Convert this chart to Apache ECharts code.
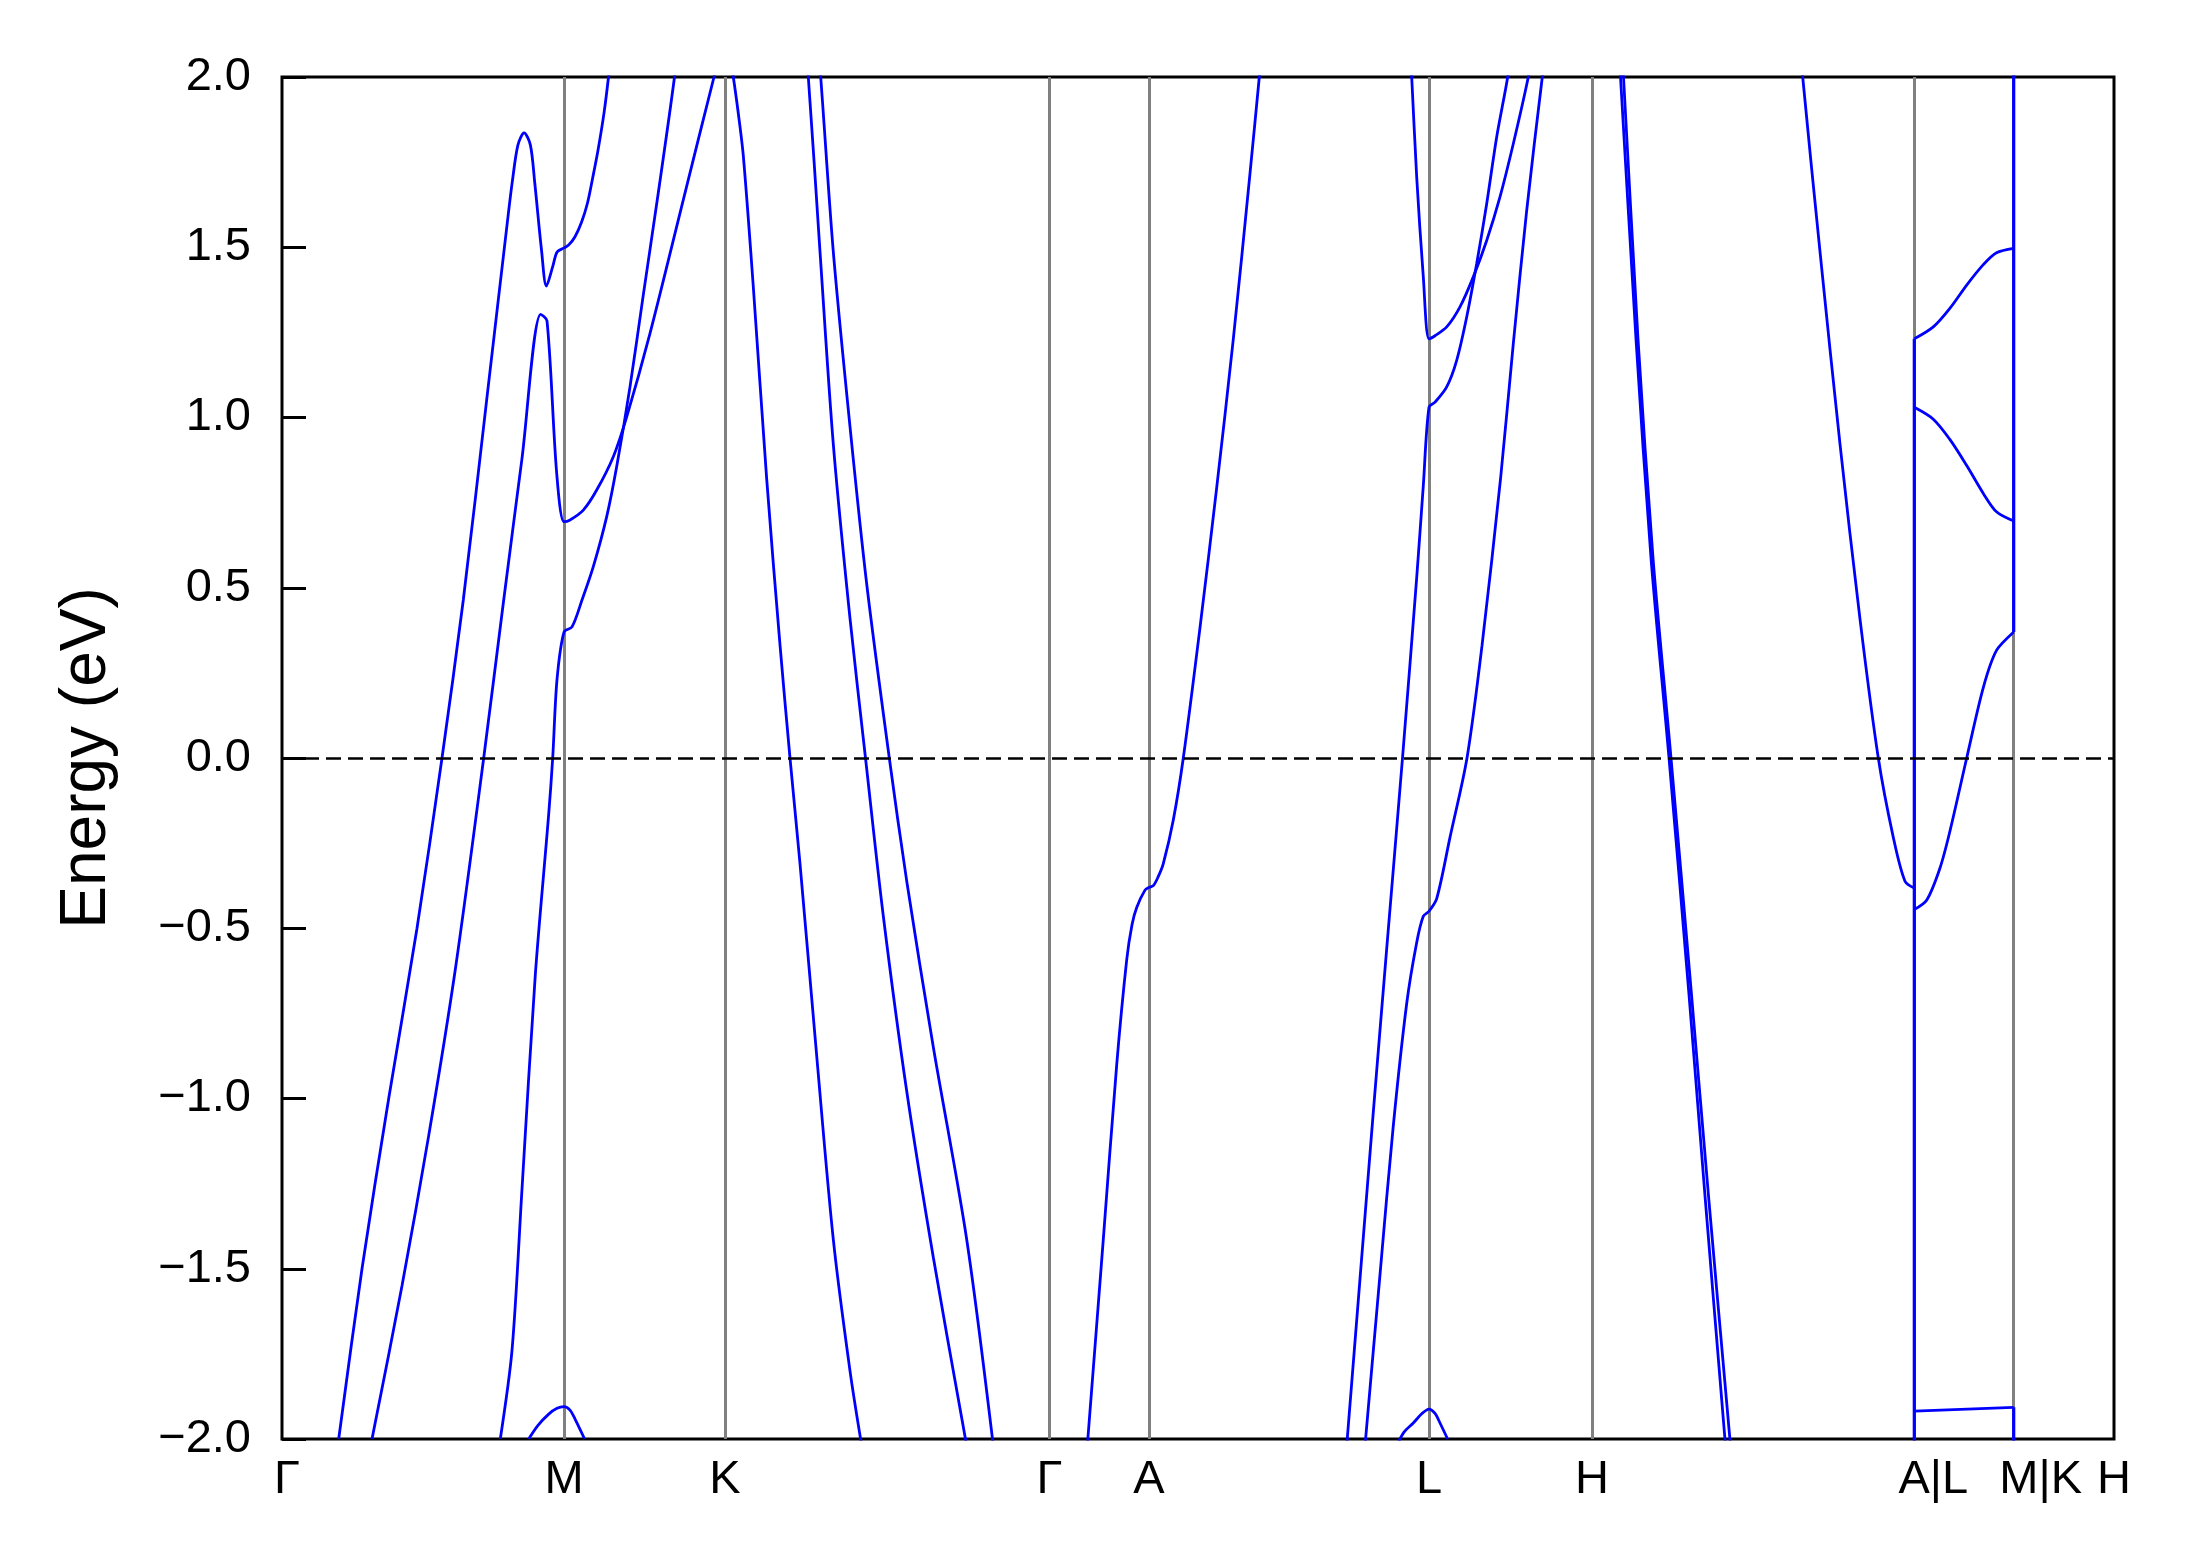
<!DOCTYPE html>
<html>
<head>
<meta charset="utf-8">
<script src="https://cdn.jsdelivr.net/npm/echarts@6/dist/echarts.min.js"></script>
<style>
html,body{margin:0;padding:0;background:#fff;}
#chart{width:2191px;height:1567px;}
</style>
</head>
<body>
<div id="chart"></div>
<script>
// k-path tick positions (path distance units) and labels
const tickPos = [0, 282, 443, 767.5, 867, 1147, 1310, 1632.3, 1731.7, 1832];
const tickLabels = ['Γ', 'M', 'K', 'Γ', 'A', 'L', 'H', 'A|L', 'M|K', 'H'];
const yRange = [-2, 2];
const yStep = 0.5;
const fermiLevel = 0;

// bands: [k, energy(eV)]
const bandA = [[56.7,-2.0],[80,-1.50],[106.7,-1.0],[135,-0.5],[160,0],[181.3,0.464],[205,1.06],[226,1.59],[230.5,1.697],[235.9,1.80],[242.1,1.836],[248.4,1.80],[252.8,1.688],[259.5,1.492],[264.4,1.386],[270.7,1.443],[275.1,1.486],[282,1.498],[286.75,1.507],[293,1.531],[299.7,1.575],[305.5,1.63],[310.9,1.707],[316,1.785],[322,1.894],[326.5,2.0],[332,2.15]];
const bandB = [[90,-2.0],[120,-1.55],[146.7,-1.109],[173.3,-0.621],[201.7,0],[221.7,0.464],[240,0.88],[258.7,1.303],[265,1.284],[274.7,0.836],[282,0.694],[288,0.699],[301.3,0.728],[314.7,0.787],[331.3,0.885],[344.7,1.002],[368,1.247],[401.3,1.639],[432,2.0],[443,2.12],[447,2.08],[451.3,2.0],[456,1.9],[461.3,1.769],[471.3,1.384],[484.7,0.819],[498,0.332],[508,0],[518,-0.31],[534.7,-0.875],[551.3,-1.414],[568,-1.80],[579.7,-2.02]];
const bandC = [[218.3,-2.0],[230,-1.74],[240,-1.266],[253.3,-0.637],[266.7,-0.165],[270.7,0],[275,0.23],[282,0.37],[290,0.385],[300,0.464],[311.3,0.562],[324.7,0.709],[334.7,0.856],[348,1.09],[361.3,1.36],[376.3,1.66],[392.5,2.0],[400,2.2]];
const bandD = [[246.7,-2.0],[256,-1.96],[266.7,-1.927],[275,-1.91],[282,-1.905],[288,-1.915],[293.3,-1.943],[302.6,-2.0]];
const bandF = [[520,2.2],[526.3,2.0],[538,1.487],[551.3,0.922],[568,0.41],[583.5,0],[601.3,-0.464],[624.7,-0.978],[651.3,-1.466],[684.7,-2.02]];
const bandG = [[533,2.2],[538.7,2.0],[551.3,1.487],[568,0.973],[584.7,0.511],[607.3,0],[624.7,-0.361],[651.3,-0.849],[684.7,-1.414],[711.3,-2.02]];
const bandH = [[805.3,-2.02],[821.3,-1.414],[834.7,-0.901],[844.7,-0.593],[850,-0.49],[854.7,-0.439],[863,-0.388],[867,-0.38],[871.3,-0.375],[876,-0.35],[881.3,-0.31],[891.3,-0.182],[901.3,0],[918,0.383],[934.7,0.794],[951.3,1.23],[968,1.717],[977.3,2.0],[982,2.15]];
const bandJ = [[1064.7,-2.02],[1078,-1.53],[1091.3,-1.04],[1104.7,-0.56],[1120.5,0],[1134.7,0.53],[1141.3,0.8],[1147,1.03],[1153,1.045],[1164.7,1.09],[1174.7,1.168],[1184.7,1.295],[1194.7,1.452],[1204.7,1.628],[1214.7,1.824],[1225.7,2.0],[1230,2.1]];
const bandI = [[1083,-2.02],[1098,-1.517],[1111.3,-1.08],[1124.7,-0.721],[1134.7,-0.542],[1141.3,-0.465],[1147,-0.45],[1154.7,-0.413],[1168,-0.233],[1185,0],[1200,0.33],[1218.7,0.825],[1231.3,1.217],[1244.7,1.608],[1260.3,2.0],[1265,2.1]];
const bandK = [[1126,2.2],[1129.7,2.0],[1134.7,1.706],[1141.3,1.413],[1147,1.231],[1153,1.24],[1164.7,1.266],[1178,1.325],[1191.3,1.413],[1204.7,1.52],[1218,1.648],[1231.3,1.804],[1246.3,2.0],[1252,2.1]];
const capL = [[1114.7,-2.02],[1122,-1.98],[1131.3,-1.953],[1140,-1.925],[1147,-1.912],[1153,-1.925],[1158,-1.953],[1165.6,-2.0]];
const bandL1 = [[1336,2.1],[1338.5,2.0],[1354,1.23],[1369,0.588],[1387,0],[1407,-0.695],[1423,-1.286],[1443.5,-2.02]];
const bandL2 = [[1339,2.1],[1341.5,2.0],[1356,1.23],[1371,0.588],[1389,0],[1409.5,-0.695],[1426.5,-1.286],[1448.5,-2.02]];
const bandM = [[1515,2.2],[1520.7,2.0],[1538,1.487],[1558,0.922],[1578,0.408],[1596.3,0],[1611.3,-0.233],[1623,-0.362],[1632.3,-0.382]];
const bandLM1 = [[1632.3,1.231],[1651.3,1.266],[1668,1.321],[1684.7,1.389],[1701.3,1.449],[1714.5,1.484],[1731.7,1.497]];
const bandLM2 = [[1632.3,1.03],[1651.3,0.995],[1668,0.935],[1684.7,0.859],[1701.3,0.777],[1714.5,0.723],[1731.7,0.696]];
const bandLM3 = [[1632.3,-0.445],[1644.6,-0.418],[1658,-0.323],[1668,-0.214],[1684.7,0],[1701.3,0.207],[1714.5,0.316],[1731.7,0.37]];
const bandLM4 = [[1632.3,-1.918],[1731.7,-1.907]];
// path discontinuities (A|L and M|K jumps)
const jumpAL = [[1632.3,-2.5],[1632.3,1.231]];
const jumpMKtop = [[1731.7,0.37],[1731.7,2.5]];
const jumpMKbot = [[1731.7,-2.5],[1731.7,-1.907]];

const smoothBands = [bandA, bandB, bandC, bandD, bandF, bandG, bandH, bandJ, bandI, bandK, capL, bandL1, bandL2, bandM, bandLM1, bandLM2, bandLM3, bandLM4];
const jumps = [jumpAL, jumpMKtop, jumpMKbot];

const FONT = '"Liberation Sans", Arial, Helvetica, sans-serif';
const chart = echarts.init(document.getElementById('chart'));

const mk = (b, smooth, w) => ({
  type: 'line',
  data: b,
  showSymbol: false,
  symbol: 'none',
  smooth: smooth,
  clip: true,
  silent: true,
  z: 3,
  lineStyle: { color: '#0000ff', width: w }
});
const series = smoothBands.map(b => mk(b, 0.3, 2.8)).concat(jumps.map(b => mk(b, false, 3.2)));

// gray vertical lines at interior high-symmetry points
series.push({
  type: 'line', data: [], silent: true, symbol: 'none',
  markLine: {
    silent: true, symbol: ['none', 'none'], z: 1, animation: false,
    label: { show: false },
    lineStyle: { color: '#808080', width: 3, type: 'solid' },
    data: tickPos.slice(1, -1).map(v => ({ xAxis: v }))
  }
});
// Fermi level dashed line
series.push({
  type: 'line', data: [], silent: true, symbol: 'none',
  markLine: {
    silent: true, symbol: ['none', 'none'], z: 10, animation: false,
    label: { show: false },
    lineStyle: { color: '#000000', width: 2.6, type: [15, 7] },
    data: [{ yAxis: fermiLevel }]
  }
});

const richPad = { p1: { padding: [0, 0, 0, 38] }, p2: { padding: [0, 0, 0, 54] } };

chart.setOption({
  animation: false,
  backgroundColor: '#ffffff',
  grid: {
    left: 282, top: 77, width: 1832, height: 1362,
    show: true, borderColor: '#000000', borderWidth: 3, backgroundColor: 'transparent'
  },
  xAxis: {
    type: 'value', min: tickPos[0], max: tickPos[tickPos.length - 1],
    axisLine: { show: false }, axisTick: { show: false }, splitLine: { show: false },
    axisLabel: {
      customValues: tickPos,
      margin: 18,
      fontFamily: FONT, fontSize: 47, color: '#000',
      rich: richPad,
      formatter: function (v) {
        let idx = tickPos.findIndex(t => Math.abs(t - v) < 1e-6);
        if (idx < 0) return '';
        const s = tickLabels[idx];
        if (s === 'Γ' && idx === 0) return '{p0|' + s + '}';
        if (s === 'A|L') return '{p1|' + s + '}';
        if (s === 'M|K') return '{p2|' + s + '}';
        return s;
      }
    }
  },
  yAxis: {
    type: 'value', min: yRange[0], max: yRange[1], interval: yStep,
    name: 'Energy (eV)', nameLocation: 'middle', nameGap: 163, nameRotate: 90,
    nameTextStyle: { fontFamily: FONT, fontSize: 64, color: '#000' },
    axisLine: { show: false },
    axisTick: { show: true, inside: true, length: 24, lineStyle: { color: '#000', width: 3 } },
    splitLine: { show: false },
    axisLabel: {
      margin: 31, fontFamily: FONT, fontSize: 47, color: '#000',
      formatter: v => (v < 0 ? '\u2212' : '') + Math.abs(v).toFixed(1)
    }
  },
  series: series
});
// small left padding so the first Γ sits like the reference
chart.setOption({ xAxis: { axisLabel: { rich: Object.assign({}, richPad, { p0: { padding: [0, 0, 0, 10] } }) } } });
</script>
</body>
</html>
